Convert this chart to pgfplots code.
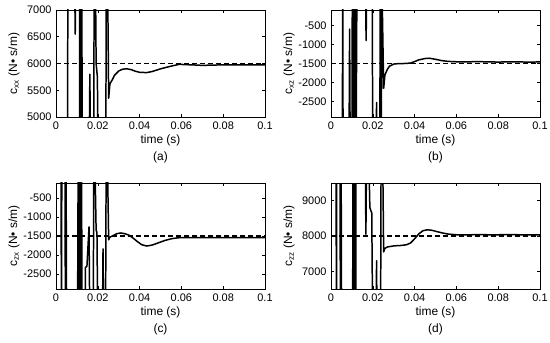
\documentclass[border=0pt]{standalone}
\usepackage{fontspec}
\setmainfont{Liberation Sans}
\usepackage{pgfplots}
\pgfplotsset{compat=1.18}
\tikzset{sub/.style={font=\fontsize{12}{13}\selectfont}}
\pgfplotsset{
  myax/.style={
    width=209bp,height=107bp,scale only axis,anchor=south west,
    xmin=0,xmax=0.1,
    xtick={0,0.02,0.04,0.06,0.08,0.1},
    xticklabels={0,0.02,0.04,0.06,0.08,0.1},
    scaled x ticks=false, scaled y ticks=false,
    tick align=inside, major tick length=3bp,
    tick style={black,line width=0.5pt},
    axis line style={line width=0.6pt},
    ticklabel style={font=\fontsize{11}{12}\selectfont},
    /pgf/number format/assume math mode=true,
    /pgf/number format/1000 sep={},
    xticklabel style={yshift=-1bp},
    yticklabel style={xshift=-1bp},
    xlabel={time (s)},
    every axis x label/.style={at={(axis description cs:0.5,0)},anchor=center,yshift=-23bp,font=\fontsize{12}{13}\selectfont},
    every axis y label/.style={at={(axis description cs:0,0.5)},xshift=-42bp,rotate=90,anchor=center,font=\fontsize{12}{13}\selectfont},
    clip mode=individual,
  },
  curve/.style={black,line width=1.5pt,line join=round},
  ref/.style={black,line width=1.6pt,dash pattern=on 5bp off 3bp},
}
\begin{document}
\begin{tikzpicture}
\path[use as bounding box] (0,0) rectangle (550bp,343bp);
% (a)
\begin{axis}[myax,at={(56bp,226bp)},ymin=5000,ymax=7000,ytick={5000,5500,6000,6500,7000},
  ylabel={c\textsubscript{xx} (N• s/m)}]
\addplot[curve] coordinates {(0,4000)(0.0055,4000)(0.0057,8000)(0.0088,8000)(0.0092,6550)(0.0095,8000)(0.0112,8000)(0.0114,4000)(0.0117,8000)(0.0120,4000)(0.0123,8000)(0.0126,4000)(0.0158,4000)(0.0162,5800)(0.0166,4000)(0.0180,4000)(0.0183,8000)(0.0188,8000)(0.0192,6000)(0.0198,5750)(0.0202,4000)(0.0238,4000)(0.0241,8000)(0.0246,8000)(0.0252,5350)(0.0258,5620)(0.027,5700)(0.028,5780)(0.030,5860)(0.032,5895)(0.034,5900)(0.036,5885)(0.038,5855)(0.040,5835)(0.0434,5830)(0.046,5850)(0.050,5900)(0.055,5950)(0.059,5985)(0.062,5978)(0.065,5975)(0.070,5965)(0.075,5970)(0.080,5975)(0.085,5975)(0.090,5975)(0.095,5975)(0.1,5975)};
\addplot[ref] coordinates {(0,6000)(0.1,6000)};
\node[sub] at (rel axis cs:0.5,0) [yshift=-40bp] {(a)};
\end{axis}
% (b)
\begin{axis}[myax,at={(331bp,226bp)},ymin=-2900,ymax=-100,ytick={-2500,-2000,-1500,-1000,-500},
  ylabel={c\textsubscript{xz} (N• s/m)}]
\addplot[curve] coordinates {(0,-4000)(0.0054,-4000)(0.0056,500)(0.0058,-4000)(0.0086,-4000)(0.0089,-600)(0.0092,-4000)(0.0100,-4000)(0.0102,500)(0.0105,-4000)(0.0108,500)(0.0112,-4000)(0.0116,500)(0.0120,-4000)(0.0124,500)(0.0165,500)(0.0168,-900)(0.0171,500)(0.0197,500)(0.0200,-4000)(0.0215,-4000)(0.0218,-2520)(0.0221,-4000)(0.0233,-4000)(0.0236,500)(0.0240,-4000)(0.0244,500)(0.0252,-2150)(0.0258,-1800)(0.027,-1650)(0.028,-1570)(0.030,-1515)(0.032,-1505)(0.035,-1500)(0.038,-1490)(0.040,-1450)(0.042,-1405)(0.045,-1370)(0.047,-1362)(0.050,-1390)(0.053,-1425)(0.056,-1445)(0.060,-1455)(0.065,-1458)(0.070,-1450)(0.075,-1458)(0.080,-1462)(0.085,-1458)(0.090,-1460)(0.095,-1462)(0.1,-1460)};
\addplot[ref] coordinates {(0,-1500)(0.1,-1500)};
\node[sub] at (rel axis cs:0.5,0) [yshift=-40bp] {(b)};
\end{axis}
% (c)
\begin{axis}[myax,at={(56bp,54bp)},height=106bp,ymin=-2900,ymax=-100,ytick={-2500,-2000,-1500,-1000,-500},
  ylabel={c\textsubscript{zx} (N• s/m)}]
\addplot[curve] coordinates {(0,500)(0.0024,500)(0.0026,-4000)(0.0028,500)(0.0043,500)(0.0045,-4000)(0.0048,500)(0.0051,-4000)(0.0103,-4000)(0.0106,500)(0.0110,-4000)(0.0114,500)(0.0118,-4000)(0.0122,500)(0.0125,-4000)(0.0138,-4000)(0.0141,-2330)(0.0148,-2300)(0.0158,-1260)(0.0162,-4000)(0.0178,-4000)(0.0181,500)(0.0186,500)(0.0192,-1350)(0.0196,-1400)(0.0200,-4000)(0.0222,-4000)(0.0225,-1840)(0.0228,-4000)(0.0237,-4000)(0.0240,500)(0.0246,500)(0.0252,-1600)(0.0258,-1530)(0.027,-1500)(0.029,-1440)(0.031,-1420)(0.033,-1440)(0.035,-1480)(0.037,-1560)(0.039,-1650)(0.041,-1730)(0.0434,-1765)(0.046,-1740)(0.049,-1680)(0.052,-1620)(0.055,-1575)(0.058,-1550)(0.060,-1542)(0.065,-1540)(0.07,-1545)(0.075,-1540)(0.08,-1540)(0.09,-1540)(0.1,-1540)};
\addplot[ref] coordinates {(0,-1500)(0.1,-1500)};
\node[sub] at (rel axis cs:0.5,0) [yshift=-40bp] {(c)};
\end{axis}
% (d)
\begin{axis}[myax,at={(331bp,54bp)},height=106bp,ymin=6500,ymax=9500,ytick={7000,8000,9000},
  ylabel={c\textsubscript{zz} (N• s/m)}]
\addplot[curve] coordinates {(0,11000)(0.0024,11000)(0.0026,5000)(0.0028,11000)(0.0043,11000)(0.0045,5000)(0.0048,11000)(0.0051,5000)(0.0103,5000)(0.0106,11000)(0.0110,5000)(0.0114,11000)(0.0118,5000)(0.0120,11000)(0.0163,11000)(0.0167,8050)(0.0171,11000)(0.0178,11000)(0.0186,8800)(0.0195,8650)(0.0200,5000)(0.0215,5000)(0.0218,7300)(0.0221,5000)(0.0237,5000)(0.0240,11000)(0.0246,11000)(0.0252,7550)(0.0258,7650)(0.027,7690)(0.030,7720)(0.033,7730)(0.036,7750)(0.038,7800)(0.040,7920)(0.042,8060)(0.044,8150)(0.046,8175)(0.048,8165)(0.050,8135)(0.053,8090)(0.056,8055)(0.060,8035)(0.065,8030)(0.070,8040)(0.075,8035)(0.080,8035)(0.085,8040)(0.090,8035)(0.1,8035)};
\addplot[ref] coordinates {(0,8000)(0.1,8000)};
\node[sub] at (rel axis cs:0.5,0) [yshift=-40bp] {(d)};
\end{axis}
\end{tikzpicture}
\end{document}
